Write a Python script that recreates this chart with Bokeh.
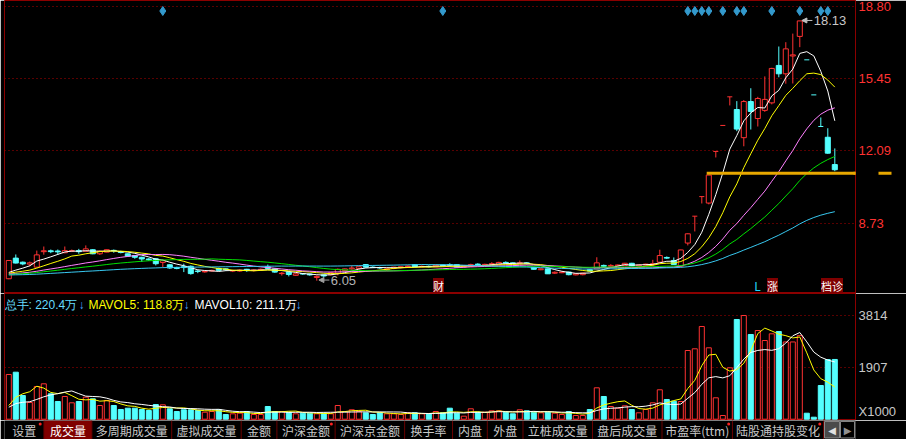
import numpy as np
from bokeh.plotting import figure
from bokeh.layouts import column
from bokeh.models import FixedTicker, Range1d, Label, Arrow, NormalHead, TeeHead, ColumnDataSource
from bokeh.embed import file_html
from bokeh.resources import INLINE
from bokeh.core.properties import value

# ---------------- data (daily candles, volume in x1000 shares) ----------------
opens = [6.14, 7.10, 6.91, 6.82, 6.68, 7.40, 7.44, 7.43, 7.35, 7.42,
         7.45, 7.42, 7.49, 7.30, 7.38, 7.46, 7.40, 7.30, 7.22, 7.14,
         7.06, 7.07, 6.90, 6.79, 6.66, 6.70, 6.72, 6.50, 6.46, 6.50,
         6.62, 6.60, 6.50, 6.50, 6.58, 6.52, 6.55, 6.70, 6.60, 6.38,
         6.45, 6.30, 6.38, 6.36, 6.20, 6.32, 6.33, 6.40, 6.52, 6.60,
         6.62, 6.80, 6.68, 6.66, 6.55, 6.62, 6.66, 6.70, 6.80, 6.70,
         6.72, 6.70, 6.78, 6.80, 6.80, 6.68, 6.72, 6.82, 6.78, 6.82,
         6.80, 6.90, 6.88, 6.85, 6.88, 6.66, 6.56, 6.60, 6.40, 6.42,
         6.45, 6.32, 6.33, 6.56, 6.60, 6.76, 6.72, 6.74, 6.76, 6.86,
         6.74, 6.78, 6.80, 6.91, 7.13, 6.99, 6.72, 7.80, 9.05, 9.96,
         9.66, 12.06, 13.27, 14.60, 14.01, 12.70, 14.38, 13.59, 13.97, 14.32,
         16.06, 15.67, 16.50, 17.41, 16.32, 14.69, 13.22, 12.72, 11.45]
highs = [7.00, 7.27, 6.94, 6.94, 7.45, 7.64, 7.50, 7.50, 7.64, 7.50,
         7.53, 7.69, 7.52, 7.46, 7.50, 7.50, 7.44, 7.32, 7.24, 7.16,
         7.10, 7.10, 7.04, 6.82, 6.70, 6.84, 6.76, 6.56, 6.50, 6.56,
         6.66, 6.62, 6.56, 6.58, 6.60, 6.58, 6.62, 6.80, 6.63, 6.45,
         6.47, 6.40, 6.40, 6.38, 6.30, 6.34, 6.45, 6.62, 6.62, 6.76,
         6.70, 6.82, 6.72, 6.70, 6.62, 6.70, 6.72, 6.76, 6.82, 6.76,
         6.76, 6.80, 6.80, 6.86, 6.82, 6.75, 6.84, 6.86, 6.84, 6.91,
         6.93, 6.95, 6.90, 6.99, 6.90, 6.70, 6.62, 6.62, 6.48, 6.48,
         6.47, 6.40, 6.42, 6.58, 7.14, 6.80, 6.82, 6.80, 6.88, 6.88,
         6.80, 6.84, 7.02, 7.49, 7.18, 7.13, 7.49, 8.25, 9.05, 9.96,
         10.96, 12.06, 13.27, 14.60, 14.40, 14.45, 15.00, 14.60, 15.55, 15.95,
         16.94, 17.14, 17.54, 18.13, 16.32, 14.69, 13.64, 13.14, 12.20]
lows = [6.12, 6.85, 6.77, 6.72, 6.66, 7.26, 7.33, 7.25, 7.33, 7.38,
        7.30, 7.40, 7.28, 7.25, 7.37, 7.35, 7.32, 7.17, 7.07, 6.92,
        6.98, 6.76, 6.68, 6.60, 6.58, 6.45, 6.33, 6.40, 6.42, 6.47,
        6.50, 6.50, 6.45, 6.46, 6.46, 6.48, 6.50, 6.58, 6.42, 6.29,
        6.25, 6.27, 6.32, 6.28, 6.05, 6.20, 6.30, 6.30, 6.48, 6.56,
        6.58, 6.66, 6.64, 6.60, 6.50, 6.58, 6.62, 6.66, 6.68, 6.66,
        6.66, 6.68, 6.72, 6.71, 6.66, 6.65, 6.70, 6.76, 6.75, 6.78,
        6.78, 6.84, 6.82, 6.84, 6.80, 6.56, 6.54, 6.37, 6.36, 6.40,
        6.30, 6.30, 6.30, 6.48, 6.58, 6.66, 6.66, 6.70, 6.74, 6.72,
        6.72, 6.76, 6.71, 6.90, 7.06, 6.78, 6.70, 7.69, 8.34, 9.64,
        9.60, 11.78, 13.27, 14.20, 13.00, 12.30, 13.08, 13.22, 13.90, 14.25,
        15.51, 15.21, 15.22, 16.91, 16.32, 14.69, 13.22, 11.95, 11.14]
closes = [6.99, 6.87, 6.83, 6.88, 7.25, 7.44, 7.40, 7.39, 7.45, 7.45,
          7.40, 7.53, 7.30, 7.42, 7.49, 7.44, 7.36, 7.19, 7.14, 7.06,
          7.02, 6.84, 6.98, 6.64, 6.62, 6.66, 6.38, 6.48, 6.48, 6.53,
          6.53, 6.56, 6.52, 6.54, 6.52, 6.55, 6.58, 6.62, 6.45, 6.40,
          6.34, 6.37, 6.36, 6.32, 6.25, 6.27, 6.42, 6.58, 6.60, 6.64,
          6.70, 6.68, 6.66, 6.64, 6.60, 6.68, 6.70, 6.73, 6.70, 6.72,
          6.70, 6.77, 6.75, 6.78, 6.68, 6.72, 6.80, 6.79, 6.81, 6.84,
          6.90, 6.87, 6.85, 6.88, 6.84, 6.58, 6.60, 6.37, 6.44, 6.45,
          6.33, 6.37, 6.40, 6.50, 6.88, 6.72, 6.76, 6.78, 6.86, 6.74,
          6.78, 6.82, 6.84, 7.22, 7.10, 6.80, 7.48, 8.23, 9.05, 9.96,
          10.96, 12.06, 13.27, 14.60, 13.10, 14.38, 13.92, 14.52, 14.48, 15.92,
          15.67, 16.83, 16.55, 18.13, 16.32, 14.69, 13.22, 11.98, 11.21]
volumes = [1649, 1734, 874, 616, 1206, 1306, 937, 653, 837, 605,
           653, 812, 752, 505, 690, 505, 358, 406, 406, 358,
           321, 542, 531, 384, 284, 347, 347, 321, 258, 284,
           347, 173, 199, 221, 284, 173, 173, 468, 284, 284,
           258, 199, 221, 221, 199, 221, 199, 505, 284, 347,
           284, 236, 173, 236, 199, 199, 173, 236, 236, 199,
           199, 284, 236, 406, 221, 111, 384, 258, 258, 310,
           310, 258, 199, 347, 310, 258, 236, 258, 221, 173,
           284, 136, 136, 358, 1158, 837, 468, 406, 494, 358,
           236, 358, 605, 1085, 727, 664, 653, 2534, 2597, 3420,
           2634, 789, 136, 1896, 3678, 3825, 3125, 3272, 2903, 3150,
           3235, 2850, 2850, 3083, 221, 74, 1243, 2200, 2204]
prior_closes = [6.42, 6.38, 6.35, 6.40, 6.36, 6.30, 6.28, 6.33, 6.31, 6.27,
                6.25, 6.30, 6.34, 6.29, 6.26, 6.22, 6.25, 6.28, 6.31, 6.27,
                6.24, 6.20, 6.23, 6.26, 6.30, 6.28, 6.25, 6.22, 6.27, 6.31,
                6.33, 6.29, 6.26, 6.30, 6.35, 6.32, 6.28, 6.25, 6.29, 6.33,
                6.36, 6.31, 6.27, 6.30, 6.34, 6.38, 6.35, 6.31, 6.28, 6.33,
                6.37, 6.40, 6.36, 6.32, 6.35, 6.33, 6.37, 6.34, 6.14]
prior_volumes = [400, 380, 420, 350, 345, 230, 210, 240, 196]

price_ticks = [8.73, 12.09, 15.45, 18.80]
price_tick_labels = ["8.73", "12.09", "15.45", "18.80"]
vol_ticks = [1907, 3814]
vol_tick_labels = ["1907", "3814"]
vol_unit_label = "X1000"
event_days = [22, 62, 97, 98, 99, 100, 102, 104, 105, 109, 113, 116, 117]
high_day, high_text = 113, "18.13"
low_day, low_text = 44, "6.05"
support_price, support_from_day = 11.05, 99.7
ma_periods = [5, 10, 20, 30, 60]
ma_colors = ["#ffffff", "#ffff00", "#ff80ff", "#00e000", "#38c8f0"]
vol_header = [("总手: 220.4万", "#66ddff"), ("↓", "#4aa8ff"),
              ("MAVOL5: 118.8万", "#ffff00"), ("↓", "#4aa8ff"),
              ("MAVOL10: 211.1万", "#ffffff"), ("↓", "#4aa8ff")]
vol_header_x = [4, 78, 88, 183, 194, 295]
tab_names = ["设置", "成交量", "多周期成交量", "虚拟成交量", "金额", "沪深金额", "沪深京金额",
             "换手率", "内盘", "外盘", "立桩成交量", "盘后成交量", "市盈率(ttm)", "陆股通持股变化"]
tab_edges = [0, 42, 93, 178, 252, 290, 352, 426, 477, 514, 552, 626, 700, 775, 872]
tab_dots = [0, 5, 12, 13]
tab_active = 1

# ---------------- layout constants (reference pixels) ----------------
RED, CYAN, DARKRED, GRID, GOLD = "#ff3232", "#54ffff", "#8b0000", "#b00000", "#e8a800"
W = 906
H_PRICE, H_VOL, H_TAB = 293, 127, 19
LEFT, RIGHT = 4, 51
STEP, X0 = 7.0, 8.3
PPX, P_REF, Y_REF = 0.0465, 18.80, 6.0
VPX, V_BASE = 36.89, 418.7


def price_at(yref):
    return P_REF - (yref - Y_REF) * PPX


def idx_at(xref):
    return (xref - X0) / STEP


def vol_at(yref):
    return (V_BASE - yref) * VPX


x_start = -(X0 - LEFT) / STEP
x_end = x_start + (W - LEFT - RIGHT) / STEP
NUM = "Liberation Sans"
CJK = "Noto Sans CJK SC"

n = len(closes)
xs = list(range(n))
prev = [prior_closes[-1]] + closes[:-1]
up = [(c > o) or (c == o and c >= pc) for o, c, pc in zip(opens, closes, prev)]
col = [RED if u else CYAN for u in up]
fill = ["#000000" if u else CYAN for u in up]

allc = np.array(prior_closes + closes, dtype=float)
npc = len(prior_closes)
allv = np.array(prior_volumes + volumes, dtype=float)
npv = len(prior_volumes)


def mov(a, k, off):
    return [float(a[off + i - k + 1: off + i + 1].mean()) for i in range(n)]


def base_fig(h, xr, yr, **kw):
    f = figure(width=W, height=h, x_range=xr, y_range=yr, output_backend="svg",
               toolbar_location=None, background_fill_color="black", border_fill_color="black",
               min_border_left=LEFT, min_border_right=RIGHT, min_border_top=0, min_border_bottom=0,
               outline_line_color=DARKRED, **kw)
    f.xgrid.visible = False
    return f


def style_right_axis(f, ticks, labels, color, grid_ticks):
    ax = f.yaxis[0]
    ax.ticker = FixedTicker(ticks=ticks)
    ax.major_label_overrides = {t: s for t, s in zip(ticks, labels)}
    ax.axis_line_color = DARKRED
    ax.major_tick_line_color = None
    ax.minor_tick_line_color = None
    ax.major_tick_out = 0
    ax.major_label_standoff = 3
    ax.major_label_text_color = color
    ax.major_label_text_font = NUM
    ax.major_label_text_font_size = "13px"
    f.ygrid.ticker = FixedTicker(ticks=grid_ticks)
    f.ygrid.grid_line_color = GRID
    f.ygrid.grid_line_dash = "1 3"


def hline_side(f, xref0, xref1, yval, dy, color, width=1):
    # horizontal stroke in the side (axis) area, drawn as a tee head (no body) outside the frame
    xc = idx_at((xref0 + xref1) / 2)
    f.add_layout(Arrow(end=TeeHead(size=xref1 - xref0, line_color=color, line_width=width),
                       x_start=xc, y_start=yval + dy, x_end=xc, y_end=yval, line_color=None))


def vline_side(f, xref, yval, length, color, width=1):
    xc = idx_at(xref)
    f.add_layout(Arrow(end=TeeHead(size=length, line_color=color, line_width=width),
                       x_start=xc + 0.01, y_start=yval, x_end=xc, y_end=yval, line_color=None))


# ---------------- price panel ----------------
p = base_fig(H_PRICE, Range1d(x_start, x_end), Range1d(price_at(H_PRICE), price_at(0)),
             x_axis_location=None, y_axis_location="right")
style_right_axis(p, price_ticks, price_tick_labels, RED, price_ticks)

# support-line extension into the side area first (before any clipped arrow body)
hline_side(p, 853, 882, support_price, 0.01, GOLD, 3)

src = ColumnDataSource(dict(x=xs, h=highs, l=lows, col=col))
p.segment(x0="x", y0="h", x1="x", y1="l", color="col", line_width=1, source=src)

bx, btop, bbot, bcol, bfill = [], [], [], [], []
dx0, dx1, dy, dcol = [], [], [], []
for i in range(n):
    o, c = opens[i], closes[i]
    if abs(o - c) < 0.015:
        dx0.append(i - 0.36); dx1.append(i + 0.36); dy.append(c); dcol.append(col[i])
    else:
        bx.append(i); btop.append(max(o, c)); bbot.append(min(o, c))
        bcol.append(col[i]); bfill.append(fill[i])
p.vbar(x=bx, width=0.72, top=btop, bottom=bbot, fill_color=bfill, line_color=bcol, line_width=1)
p.segment(x0=dx0, y0=dy, x1=dx1, y1=dy, color=dcol, line_width=1)

for k, c in zip(ma_periods, ma_colors):
    p.line(xs, mov(allc, k, npc), line_color=c, line_width=1)

p.scatter(x=event_days, y=[price_at(10.5)] * len(event_days), marker="diamond", size=9,
          fill_color="#3399cc", line_color="#3399cc")

p.add_layout(Arrow(end=NormalHead(size=13, fill_color="#f0b000", line_color="#f0b000"),
                   x_start=support_from_day, y_start=support_price, x_end=idx_at(891), y_end=support_price,
                   line_color=GOLD, line_width=3))

p.add_layout(Arrow(end=NormalHead(size=5, fill_color="#c0c0c0", line_color="#c0c0c0"),
                   x_start=high_day + 1.8, y_start=highs[high_day] + 0.02,
                   x_end=high_day + 0.3, y_end=highs[high_day] + 0.02, line_color="#c0c0c0", line_width=1))
p.add_layout(Label(x=high_day + 2.0, y=highs[high_day] + 0.02, text=high_text, text_color="#c8c8c8",
                   text_font=NUM, text_font_size="13px", text_baseline="middle", text_align="left"))
p.add_layout(Arrow(end=NormalHead(size=5, fill_color="#a0a0a0", line_color="#a0a0a0"),
                   x_start=low_day + 1.8, y_start=lows[low_day] + 0.03,
                   x_end=low_day + 0.3, y_end=lows[low_day] + 0.03, line_color="#a0a0a0", line_width=1))
p.add_layout(Label(x=low_day + 2.0, y=lows[low_day] + 0.03, text=low_text, text_color="#b4b4b4",
                   text_font=NUM, text_font_size="13px", text_baseline="middle", text_align="left"))

for text, xref, yref, fg, bg, size in [("财", 438, 285.5, "#ffffff", "#800000", "11px"),
                                       ("L", 757, 284.5, "#22d8ff", None, "12px"),
                                       ("涨", 772, 285.5, "#ffffff", "#800000", "11px"),
                                       ("档诊", 831.5, 285.5, "#ffffff", "#800000", "11px")]:
    p.add_layout(Label(x=idx_at(xref), y=price_at(yref), text=text, text_color=fg, text_font=CJK,
                       text_font_size=size, text_align="center", text_baseline="middle",
                       background_fill_color=bg))

# ---------------- volume panel ----------------
v = base_fig(H_VOL, p.x_range, Range1d(vol_at(H_PRICE + H_VOL), vol_at(H_PRICE)),
             x_axis_location=None, y_axis_location="right")
style_right_axis(v, [vol_at(411)] + vol_ticks, [vol_unit_label] + vol_tick_labels, "#c8c8c8", vol_ticks)
# box around the unit label and separator extension into the label area
hline_side(v, 855, 892, vol_at(404.5), 5, DARKRED)
hline_side(v, 855, 892, vol_at(417.5), 5, DARKRED)
vline_side(v, 891.5, vol_at(411), 13, DARKRED)
hline_side(v, 855, 906, vol_at(293.5), 5, DARKRED)
v.vbar(x=xs, width=0.72, top=volumes, bottom=0, fill_color=fill, line_color=col, line_width=1)
v.line(xs, mov(allv, 5, npv), line_color="#ffff00", line_width=1)
v.line(xs, mov(allv, 10, npv), line_color="#ffffff", line_width=1)
for (text, c), xref in zip(vol_header, vol_header_x):
    v.add_layout(Label(x=idx_at(xref), y=vol_at(304), text=text, text_color=c, text_font=NUM,
                       text_font_size="12px", text_baseline="middle", text_align="left"))

# ---------------- tab bar ----------------
t = figure(width=W, height=H_TAB, x_range=Range1d(0, W), y_range=Range1d(0, 1), output_backend="svg",
           toolbar_location=None, background_fill_color="black", border_fill_color="black",
           min_border=0, outline_line_color=None, x_axis_location=None, y_axis_location=None)
t.xgrid.visible = False
t.ygrid.visible = False
t.quad(left=[tab_edges[tab_active]], right=[tab_edges[tab_active + 1]], bottom=[0], top=[1],
       fill_color="#800000", line_color=None)
t.segment(x0=tab_edges[1:], y0=0, x1=tab_edges[1:], y1=1, line_color="#6a0000", line_width=1)
centers = [(a + b) / 2 for a, b in zip(tab_edges[:-1], tab_edges[1:])]
tcol = ["#ffffff" if i == tab_active else "#c8c8c8" for i in range(len(tab_names))]
t.text(x=centers, y=0.48, text=tab_names, text_color=tcol, text_align="center", text_baseline="middle",
       text_font=value(CJK), text_font_size="12px")
dot_x = [tab_edges[i + 1] - 4 for i in tab_dots]
t.scatter(x=dot_x, y=0.82, size=3, marker="circle", fill_color="#ff2020", line_color=None)
t.quad(left=[873, 890], right=[889, 905], bottom=[0.08, 0.08], top=[0.95, 0.95],
       fill_color=["#4a4a4a", "#000000"], line_color="#8a8a8a")
t.text(x=[881, 897.5], y=0.5, text=["◀", "▶"], text_color=["#e0e0e0", "#909090"], text_align="center",
       text_baseline="middle", text_font=value("DejaVu Sans"), text_font_size="10px")

layout = column(p, v, t, spacing=0)
open("out.html", "w").write(file_html(layout, INLINE))
